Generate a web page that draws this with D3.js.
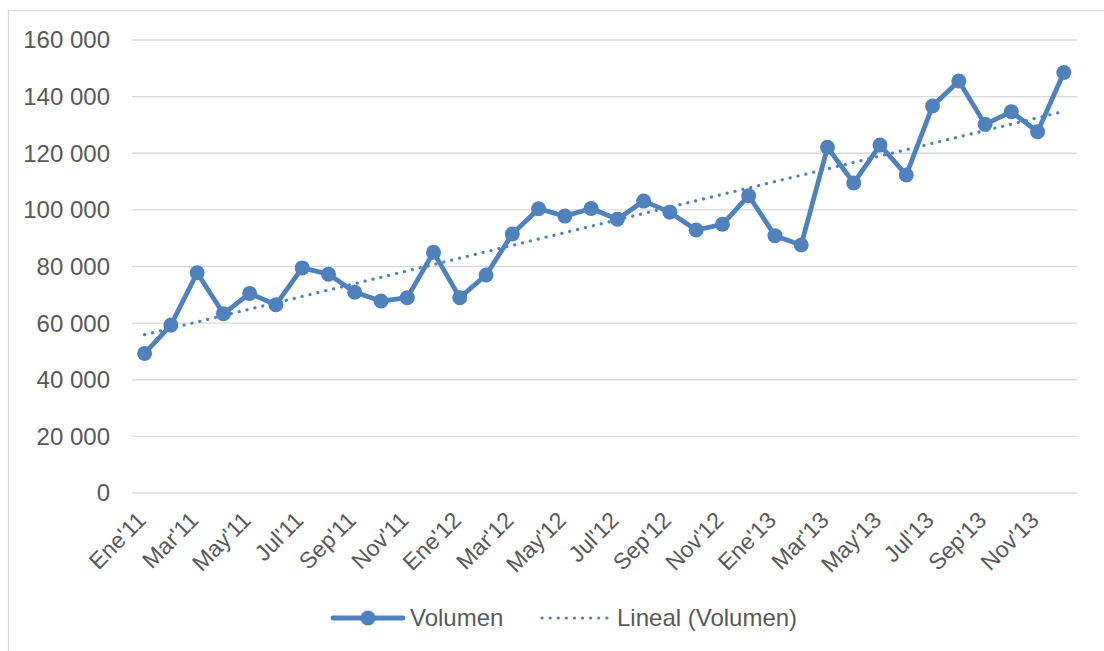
<!DOCTYPE html>
<html>
<head>
<meta charset="utf-8">
<script src="https://cdn.jsdelivr.net/npm/d3@7"></script>
<style>
  body { margin: 0; background: #fff; }
  svg { display: block; font-family: "Liberation Sans", Arial, sans-serif; }
</style>
</head>
<body>
<script>
"use strict";

// monthly labels (Spanish abbreviations, as in the source)
var months = ["Ene'11","Feb'11","Mar'11","Abr'11","May'11","Jun'11","Jul'11","Ago'11","Sep'11","Oct'11","Nov'11","Dic'11",
              "Ene'12","Feb'12","Mar'12","Abr'12","May'12","Jun'12","Jul'12","Ago'12","Sep'12","Oct'12","Nov'12","Dic'12",
              "Ene'13","Feb'13","Mar'13","Abr'13","May'13","Jun'13","Jul'13","Ago'13","Sep'13","Oct'13","Nov'13","Dic'13"];

var volumen = [49300, 59300, 77800, 63300, 70500, 66500, 79500, 77300, 70900, 67800, 69000, 85000,
               69000, 77000, 91500, 100400, 97800, 100500, 96700, 103100, 99200, 92900, 94900, 105000,
               90900, 87600, 122100, 109500, 122900, 112300, 136700, 145500, 130200, 134700, 127600, 148500];

var yTicks = [0, 20000, 40000, 60000, 80000, 100000, 120000, 140000, 160000];

var width = 1104, height = 651;
var blue = "#4f81bd", grey = "#595959", gridCol = "#d9d9d9";

var svg = d3.select("body").append("svg")
  .attr("width", width)
  .attr("height", height);

// chart area frame (only left and top edges fall inside the window)
svg.append("rect")
  .attr("x", 8.5).attr("y", 10.5)
  .attr("width", 1200).attr("height", 800)
  .attr("fill", "none")
  .attr("stroke", gridCol)
  .attr("stroke-width", 1.3);

var x = d3.scaleBand().domain(months).range([131.5, 1077]);
var y = d3.scaleLinear().domain([0, 160000]).range([493, 40]);
var fmt = function(v) { return d3.format(",")(v).replace(/,/g, " "); };

// gridlines
svg.append("g").selectAll("line")
  .data(yTicks)
  .join("line")
    .attr("x1", 132).attr("x2", 1077)
    .attr("y1", function(d) { return y(d); })
    .attr("y2", function(d) { return y(d); })
    .attr("stroke", gridCol)
    .attr("stroke-width", 1.3);

// y labels
svg.append("g").selectAll("text")
  .data(yTicks)
  .join("text")
    .attr("x", 110)
    .attr("y", function(d) { return y(d); })
    .attr("dy", "0.35em")
    .attr("text-anchor", "end")
    .attr("fill", grey)
    .style("font-size", "24px")
    .text(fmt);

// x labels, every other month
var cx = function(d) { return x(d) + x.bandwidth() / 2; };
svg.append("g").selectAll("text")
  .data(months.filter(function(d, i) { return i % 2 === 0; }))
  .join("text")
    .attr("transform", function(d) { return "translate(" + (cx(d) - 3) + ",516) rotate(-45)"; })
    .attr("dy", "0.35em")
    .attr("text-anchor", "end")
    .attr("fill", grey)
    .style("font-size", "23px")
    .text(function(d) { return d; });

// linear trend (least squares over the series, like the spreadsheet trendline)
var n = volumen.length;
var xm = d3.mean(volumen, function(d, i) { return i; });
var ym = d3.mean(volumen);
var sxy = d3.sum(volumen, function(d, i) { return (i - xm) * (d - ym); });
var sxx = d3.sum(volumen, function(d, i) { return (i - xm) * (i - xm); });
var slope = sxy / sxx, icpt = ym - slope * xm;
var trend = [0, n - 1].map(function(i) { return { m: months[i], v: icpt + slope * i }; });

var line = d3.line()
  .x(function(d) { return cx(d.m); })
  .y(function(d) { return y(d.v); });

var pts = volumen.map(function(v, i) { return { m: months[i], v: v }; });

svg.append("path")
  .datum(pts)
  .attr("d", line)
  .attr("fill", "none")
  .attr("stroke", blue)
  .attr("stroke-width", 4.8)
  .attr("stroke-linejoin", "round");

svg.append("g").selectAll("circle")
  .data(pts)
  .join("circle")
    .attr("cx", function(d) { return cx(d.m); })
    .attr("cy", function(d) { return y(d.v); })
    .attr("r", 7.5)
    .attr("fill", blue);

svg.append("path")
  .datum(trend)
  .attr("d", line)
  .attr("fill", "none")
  .attr("stroke", blue)
  .attr("stroke-width", 3.2)
  .attr("stroke-linecap", "round")
  .attr("stroke-dasharray", "0.1 8");

// legend
var leg = svg.append("g");
leg.append("line")
  .attr("x1", 333).attr("x2", 403).attr("y1", 618).attr("y2", 618)
  .attr("stroke", blue).attr("stroke-width", 4.8).attr("stroke-linecap", "round");
leg.append("circle")
  .attr("cx", 368).attr("cy", 618).attr("r", 7.5).attr("fill", blue);
leg.append("text")
  .attr("x", 410).attr("y", 618).attr("dy", "0.35em")
  .attr("fill", grey).style("font-size", "24px")
  .text("Volumen");
leg.append("line")
  .attr("x1", 542).attr("x2", 608).attr("y1", 618).attr("y2", 618)
  .attr("stroke", blue).attr("stroke-width", 3.2)
  .attr("stroke-linecap", "round").attr("stroke-dasharray", "0.1 8");
leg.append("text")
  .attr("x", 617).attr("y", 618).attr("dy", "0.35em")
  .attr("fill", grey).style("font-size", "24px")
  .text("Lineal (Volumen)");
</script>
</body>
</html>
